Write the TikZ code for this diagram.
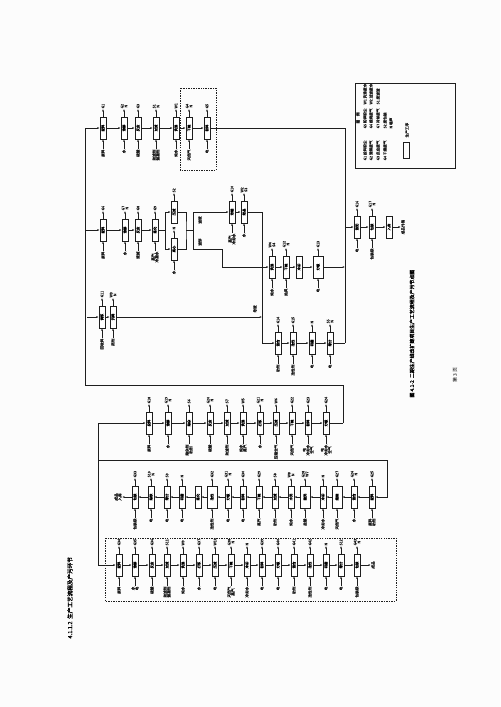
\documentclass[tikz,border=0pt]{standalone}
\usepackage{fontspec}
\usepackage{graphicx}
\usepackage{tikz}
\usetikzlibrary{arrows.meta, positioning}
\setmainfont{Noto Sans CJK SC}
\newfontfamily\cjkbold[FakeBold=2]{Noto Sans CJK SC}
\newfontfamily\cjkmid[FakeBold=1.2]{Noto Sans CJK SC}
\definecolor{ScanInk}{RGB}{30,30,30}
\definecolor{ScanPaper}{RGB}{252,252,252}

% one process step: node name, x, y, step, emission, input
\newcommand{\stage}[7][pbox]{%
  \node[#1] (#2) at (#3,#4) {\rotatebox{90}{#5}};
  \node[lbl, anchor=west] (#2g) at (#3,#4-19) {#6};
  \node[lbl, anchor=east] (#2m) at (#3,#4+21) {#7};
  \draw[arr] (#2) -- (#2g);
  \draw[arr] (#2m) -- (#2);}
\newcommand{\stagetop}[5]{%
  \node[pbox] (#1) at (#2,#3) {\rotatebox{90}{#4}};
  \node[lbl, anchor=west] (#1g) at (#2,#3-19) {#5};
  \draw[arr] (#1) -- (#1g);}
\newcommand{\plainstage}[4]{%
  \node[pbox] (#1) at (#2,#3) {\rotatebox{90}{#4}};}

\begin{document}
\begin{tikzpicture}[x=0.05cm, y=-0.05cm,
    pbox/.style={rectangle, draw=ScanInk, line width=0.9pt, fill=white,
                 minimum width=0.3cm, minimum height=1.1cm, inner sep=0pt,
                 font=\cjkmid\fontsize{4.8}{4.8}\selectfont},
    wbox/.style={pbox, minimum width=0.5cm},
    lbl/.style={rotate=90, inner sep=0.6pt, align=center, text=ScanInk,
                font=\cjkmid\fontsize{5.2}{5.4}\selectfont},
    arr/.style={-{Latex[length=3.2pt,width=2.6pt]}, draw=ScanInk, line width=0.9pt},
    link/.style={draw=ScanInk, line width=0.9pt},
    dashbox/.style={draw=ScanInk, line width=0.8pt, dash pattern=on 2pt off 1.5pt}
  ]
  \fill[ScanPaper] (0,0) rectangle (500,707);
  \useasboundingbox (0,0) rectangle (500,707);

  % upper line, row 1
  \stage{a1}{103}{128}{配料}{G1}{原料}
  \stage{a2}{124}{128}{溶解}{G2\\N}{水}
  \stage{a3}{138}{128}{反应}{G3}{硫酸}
  \stage{a4}{156}{128}{过滤}{S1\\N}{助滤剂\\絮凝剂}
  \stage{a5}{176}{128}{洗涤}{W1}{纯水}
  \stage{a6}{189}{128}{干燥}{G4\\N}{天然气}
  \stage{a7}{207}{128}{粉碎}{G5}{电}
  \draw[dashbox] (180,88) rectangle (216,170);

  % upper line, row 2
  \stage{b1}{103}{230}{配料}{G6}{原料}
  \stage{b2}{125}{230}{溶解}{G7\\N}{水}
  \stage{b3}{138}{230}{反应}{G8}{液碱}
  \stage{b4}{155}{230}{陈化}{G9}{蒸汽\\冷凝水}
  \stagetop{b5}{174}{212}{压滤}{S2}
  \stage{b6}{174}{249}{离心}{N}{水}
  \stage{b7}{232}{212}{浓缩}{G10}{蒸汽\\冷却水}
  \stage{b8}{244}{212}{结晶}{W2\\S3}{水}

  % upper line, row 3
  \stage{c1}{102}{317}{调浆}{G11}{回收料}
  \stage{c2}{113}{317}{沉降}{W3\\N}{药剂}

  \stage{d1}{272}{267}{洗涤}{W4\\S4}{纯水}
  \stage{d2}{286}{267}{干燥}{G12\\N}{热风}
  \plainstage{d3}{299}{267}{冷却}
  \stage[wbox]{d4}{318}{267}{分级}{G13}{电}

  \stage{h1}{278}{343}{混合}{G14}{助剂}
  \stage{h2}{293}{343}{改性}{G15}{改性剂}
  \stage{h3}{312}{343}{研磨}{N}{电}
  \stage{h4}{330}{343}{筛分}{S5\\N}{电}

  \stage{f1}{357}{227}{混配}{G16}{电}
  \stage{f2}{372}{227}{包装}{G17\\N}{包装袋}
  \plainstage{f3}{389}{227}{入库}
  \node[lbl] (prod) at (403,227) {成品外售};

  % upper connectors
  \coordinate (top) at (85,128);
  \coordinate (low) at (85,385);
  \coordinate (sink) at (345,128);
  \draw[link] (low) -- (top);
  \draw[arr] (top) -- (a1);
  \foreach \i [evaluate=\i as \j using int(\i+1)] in {1,...,6}
    \draw[arr] (a\i) -- (a\j);
  \draw[link] (a7) -- (sink) -- (345,343);
  \draw[arr] (85,230) -- (b1);
  \foreach \i [evaluate=\i as \j using int(\i+1)] in {1,...,3}
    \draw[arr] (b\i) -- (b\j);
  \coordinate (bs) at (165,230);
  \coordinate (bm) at (186,230);
  \coordinate (bj1) at (193,212);
  \coordinate (bj2) at (193,249);
  \draw[link] (b4) -- (bs);
  \draw[link] (bs |- b5) -- (bs |- b6);
  \draw[arr] (bs |- b5) -- (b5);
  \draw[arr] (bs |- b6) -- (b6);
  \draw[link] (b5) -| (bm) |- (b6);
  \draw[link] (bm) -- (bj1 |- bm);
  \draw[link] (bj1) -- (bj2);
  \draw[arr] (bj1) -- (b7);
  \draw[arr] (b7) -- (b8);
  \node[lbl] (lq1) at (200,220) {滤液};
  \node[lbl] (lq2) at (200,242) {滤饼};
  \coordinate (bturn) at (222,267);
  \draw[arr] (bj2) -| (bturn) -- (d1);
  \foreach \i [evaluate=\i as \j using int(\i+1)] in {1,...,3}
    \draw[arr] (d\i) -- (d\j);
  \draw[arr] (d4) -- (d4 -| sink);
  \coordinate (mid) at (262,212);
  \draw[link] (b8) -- (mid) -- (262,343);
  \draw[arr] (262,343) -- (h1);
  \foreach \i [evaluate=\i as \j using int(\i+1)] in {1,...,3}
    \draw[arr] (h\i) -- (h\j);
  \draw[link] (h4) -- (h4 -| sink);
  \draw[arr] (87,317) -- (c1);
  \draw[arr] (c1) -- (c2);
  \draw[arr] (c2) -- (262,317);
  \node[lbl] (ww) at (255,309) {母液};
  \draw[arr] (345,227) -- (f1);
  \draw[arr] (f1) -- (f2);
  \draw[arr] (f2) -- (f3);
  \draw[arr] (f3) -- (prod);
  \draw[link] (low) -- (343,385) -- (343,423);

  % lower line, row 1
  \stage{e1}{149}{423}{投料}{G18}{原料}
  \stage{e2}{168}{423}{溶解}{G19\\N}{水}
  \stage{e3}{189}{423}{除杂}{S6}{除杂剂\\助剂}
  \stage{e4}{210}{423}{反应}{G20\\N}{硫酸}
  \stage{e5}{227}{423}{过滤}{S7}{助滤剂}
  \stage{e6}{243}{423}{洗涤}{W5}{纯水\\蒸汽}
  \stage{e7}{260}{423}{打浆}{G21\\N}{水}
  \stage{e8}{276}{423}{压滤}{W6}{压缩空气}
  \stage{e9}{292}{423}{干燥}{G22}{天然气}
  \stage{e10}{308}{423}{粉碎}{G23}{电\\冷却水\\空气}
  \stage{e11}{326}{423}{分级}{G24}{电\\冷却水\\空气}
  \coordinate (lft) at (98,423);
  \draw[link] (98,565) -- (lft);
  \draw[arr] (lft) -- (e1);
  \foreach \i [evaluate=\i as \j using int(\i+1)] in {1,...,10}
    \draw[arr] (e\i) -- (e\j);
  \draw[link] (e11) -- (343,423);

  % lower line, row 2 (runs back to the left)
  \stage{k1}{372}{497}{配料}{G25}{原料\\助剂}
  \stage{k2}{354}{497}{混合}{G26\\N}{水}
  \stage[wbox]{k3}{337}{497}{煅烧}{G27}{天然气}
  \stage{k4}{323}{497}{冷却}{N}{冷却水}
  \stage[wbox]{k5}{305}{497}{酸洗}{G28\\W7}{盐酸}
  \stage{k6}{291}{497}{水洗}{W8\\N}{纯水}
  \stage{k7}{275}{497}{过滤}{S8}{助剂}
  \stage{k8}{259}{497}{干燥}{G29}{蒸汽}
  \stage{k9}{243}{497}{粉碎}{G30}{电}
  \stage{k10}{228}{497}{分级}{G31\\N}{电}
  \stage[wbox]{k11}{212}{497}{改性}{G32}{改性剂}
  \plainstage{k12}{198}{497}{陈化}
  \stage{k13}{182}{497}{研磨}{N}{电}
  \stage{k14}{167}{497}{筛分}{S9}{电}
  \stage{k15}{151}{497}{除铁}{S10\\N}{电}
  \stage{k16}{135}{497}{包装}{G33}{包装袋}
  \node[lbl] (kout) at (118,497) {成品\\入库};
  \coordinate (sep) at (387,460);
  \draw[link] (98,460) -- (sep);
  \draw[arr] (sep) |- (k1);
  \foreach \i [evaluate=\i as \j using int(\i+1)] in {1,...,15}
    \draw[arr] (k\i) -- (k\j);
  \draw[arr] (k16) -- (kout);

  % lower line, row 3
  \stage{g1}{119}{565}{配料}{G34}{原料}
  \stage{g2}{135}{565}{溶解}{G35}{水\\电}
  \stage{g3}{152}{565}{反应}{G36}{硫酸}
  \stage{g4}{167}{565}{过滤}{S11}{助滤剂\\絮凝剂}
  \stage{g5}{183}{565}{洗涤}{W9}{纯水}
  \stage{g6}{199}{565}{打浆}{G37}{水}
  \stage{g7}{215}{565}{压滤}{W10}{电}
  \stage{g8}{231}{565}{干燥}{G38\\N}{天然气\\蒸汽}
  \stage{g9}{247}{565}{冷却}{N}{冷却水}
  \stage{g10}{262}{565}{粉碎}{G39}{电}
  \stage{g11}{278}{565}{分级}{G40}{电}
  \stage{g12}{294}{565}{混合}{G41}{助剂}
  \stage{g13}{310}{565}{改性}{G42}{改性剂}
  \stage{g14}{326}{565}{研磨}{N}{电}
  \stage{g15}{341}{565}{筛分}{S12}{电}
  \stage{g16}{357}{565}{包装}{G43\\N}{包装袋}
  \node[lbl] (gout) at (373,565) {成品};
  \draw[dashbox] (105,538) rectangle (396,601);
  \draw[arr] (98,565) -- (g1);
  \foreach \i [evaluate=\i as \j using int(\i+1)] in {1,...,15}
    \draw[arr] (g\i) -- (g\j);
  \draw[arr] (g16) -- (gout);

  % legend
  \draw[link] (355,83) rectangle (455,168);
  \node[lbl, anchor=west] (lgt) at (358,124) {图\quad 例};
  \node[lbl, anchor=west] (l11) at (365,161) {G1 投料粉尘};
  \node[lbl, anchor=west] (l12) at (365,129) {G5 粉碎粉尘};
  \node[lbl, anchor=west] (l13) at (365,105) {W1 洗涤废水};
  \node[lbl, anchor=west] (l21) at (371,161) {G2 溶解废气};
  \node[lbl, anchor=west] (l22) at (371,129) {G6 煅烧废气};
  \node[lbl, anchor=west] (l23) at (371,105) {W2 过滤废水};
  \node[lbl, anchor=west] (l31) at (378,161) {G3 反应废气};
  \node[lbl, anchor=west] (l32) at (378,129) {G7 冷却废气};
  \node[lbl, anchor=west] (l33) at (378,105) {S1 废滤渣};
  \node[lbl, anchor=west] (l41) at (385,161) {G4 干燥废气};
  \node[lbl, anchor=west] (l42) at (385,129) {S2 废包装};
  \node[lbl, anchor=west] (l52) at (391,129) {N 噪声};
  \node[draw=ScanInk, line width=0.8pt, minimum width=0.3cm, minimum height=0.8cm,
        inner sep=0pt] (lbox) at (406,150) {};
  \node[lbl, anchor=west] (lbt) at (407,138) {生产工序};

  % headings
  \node[rotate=90, anchor=west, font=\cjkbold\fontsize{8}{8}\selectfont]
        (sect) at (70,641) {4.1.1.2\ \ 生产工艺流程及产污环节};
  \node[rotate=90, anchor=west, font=\cjkbold\fontsize{7}{7}\selectfont]
        (caption) at (412,400) {图 4.1-2\ \ 二期生产线改扩建项目生产工艺流程及产污节点图};
  \node[rotate=90, font=\fontsize{7}{7}\selectfont] (page) at (455,375) {第 3 页};
\end{tikzpicture}
\end{document}
